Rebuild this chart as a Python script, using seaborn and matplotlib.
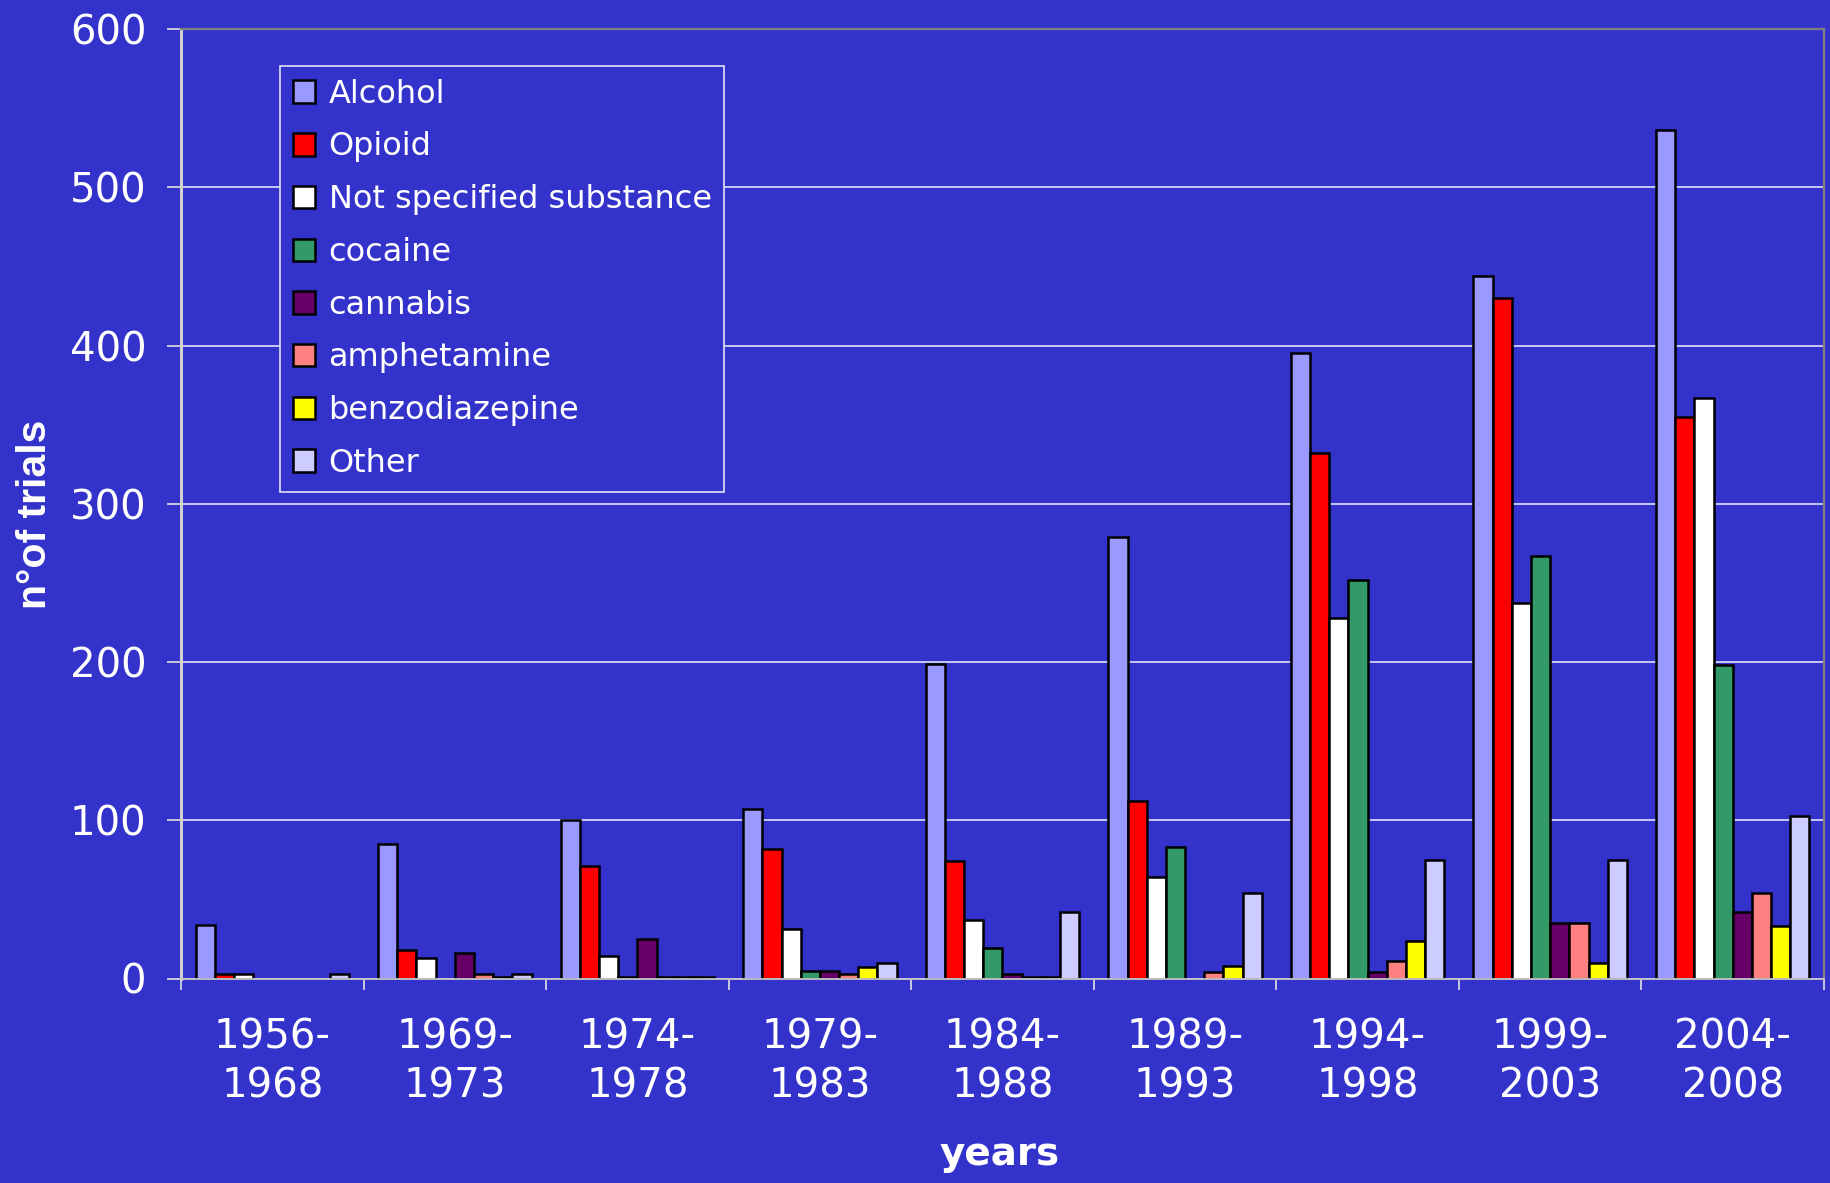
import numpy as np
import pandas as pd
import matplotlib
matplotlib.use("Agg")
import matplotlib.pyplot as plt
from matplotlib.patches import Patch
import seaborn as sns

# Number of trials per period and substance
periods = ["1956-\n1968", "1969-\n1973", "1974-\n1978", "1979-\n1983", "1984-\n1988",
           "1989-\n1993", "1994-\n1998", "1999-\n2003", "2004-\n2008"]
substances = ["Alcohol", "Opioid", "Not specified substance", "cocaine",
              "cannabis", "amphetamine", "benzodiazepine", "Other"]

alcohol = [34, 85, 100, 107, 199, 279, 395, 444, 536]
opioid = [3, 18, 71, 82, 74, 112, 332, 430, 355]
not_specified = [3, 13, 14, 31, 37, 64, 228, 237, 367]
cocaine = [0, 0, 1, 5, 19, 83, 252, 267, 198]
cannabis = [0, 16, 25, 5, 3, 0, 4, 35, 42]
amphetamine = [0, 3, 1, 3, 1, 4, 11, 35, 54]
benzodiazepine = [0, 1, 1, 7, 1, 8, 24, 10, 33]
other = [3, 3, 1, 10, 42, 54, 75, 75, 103]

series = [alcohol, opioid, not_specified, cocaine, cannabis,
          amphetamine, benzodiazepine, other]
colors = ["#9999FF", "#FF0000", "#FFFFFF", "#339966",
          "#660066", "#FF8080", "#FFFF00", "#CCCCFF"]
BG = "#3333CC"

df = pd.DataFrame({
    "period": np.tile(periods, len(substances)),
    "substance": np.repeat(substances, len(periods)),
    "trials": np.concatenate(series),
})
palette = dict(zip(substances, colors))

plt.rcParams["font.family"] = ["DejaVu Sans"]

W, H = 1831, 1183
fig = plt.figure(figsize=(W / 100, H / 100), dpi=100, facecolor=BG)
ax = fig.add_axes([181 / W, 1 - 978.5 / H, (1824 - 181) / W, (978.5 - 29) / H])
ax.set_facecolor(BG)

sns.barplot(data=df, x="period", y="trials", hue="substance",
            order=periods, hue_order=substances, palette=palette,
            width=0.84, gap=0, saturation=1, errorbar=None,
            edgecolor="black", linewidth=1.8, legend=False, ax=ax)

# empty cells are not outlined
for p in ax.patches:
    if p.get_height() == 0:
        p.set_linewidth(0)

ax.set_ylim(0, 600)
ax.set_yticks(np.arange(0, 601, 100))
ax.set_axisbelow(True)
ax.yaxis.grid(True, color="#EEEEFF", linewidth=1.1)
ax.xaxis.grid(False)

ax.set_xlim(-0.5, len(periods) - 0.5)
ax.set_xticks(range(len(periods)))
ax.set_xticklabels(periods, linespacing=1.3)
ax.set_xticks(np.arange(-0.5, len(periods), 1.0), minor=True)
ax.tick_params(axis="x", which="major", length=0, pad=28,
               labelsize=29, labelcolor="white")
ax.tick_params(axis="x", which="minor", length=8, width=1.2,
               color="#E0E0E0", direction="out")
ax.tick_params(axis="y", length=10, width=1.2, color="#E0E0E0",
               pad=15, labelsize=29, labelcolor="white")

ax.set_xlabel("")
ax.set_ylabel("")

ax.spines["top"].set_color("#808080")
ax.spines["top"].set_linewidth(1.6)
ax.spines["right"].set_color("#808080")
ax.spines["right"].set_linewidth(1.6)
ax.spines["left"].set_color("#D0D0D0")
ax.spines["left"].set_linewidth(2.2)
ax.spines["bottom"].set_color("#C8C8C8")
ax.spines["bottom"].set_linewidth(1.3)

fig.text(35 / W, 1 - 514 / H, "n°of trials", rotation=90, ha="center",
         va="center", fontsize=29.5, fontweight="bold", color="white",
         family=["Liberation Sans", "DejaVu Sans"])
fig.text(1000 / W, 1 - 1165 / H, "years", ha="center", va="baseline",
         fontsize=28, fontweight="bold", color="white")

handles = [Patch(facecolor=c, edgecolor="black", linewidth=1.8) for c in colors]
leg = ax.legend(handles, substances, loc="upper left",
                bbox_to_anchor=(280 / W, 1 - 66 / H),
                bbox_transform=fig.transFigure, fontsize=23,
                frameon=True, fancybox=False, facecolor=BG,
                edgecolor="#E0E0F8", framealpha=1, borderpad=0.4,
                labelspacing=0.68, handlelength=0.7, handleheight=0.7,
                handletextpad=0.42, borderaxespad=0, labelcolor="white")
leg.get_frame().set_linewidth(1.2)

fig.savefig("out.png", dpi=100, facecolor=BG)
